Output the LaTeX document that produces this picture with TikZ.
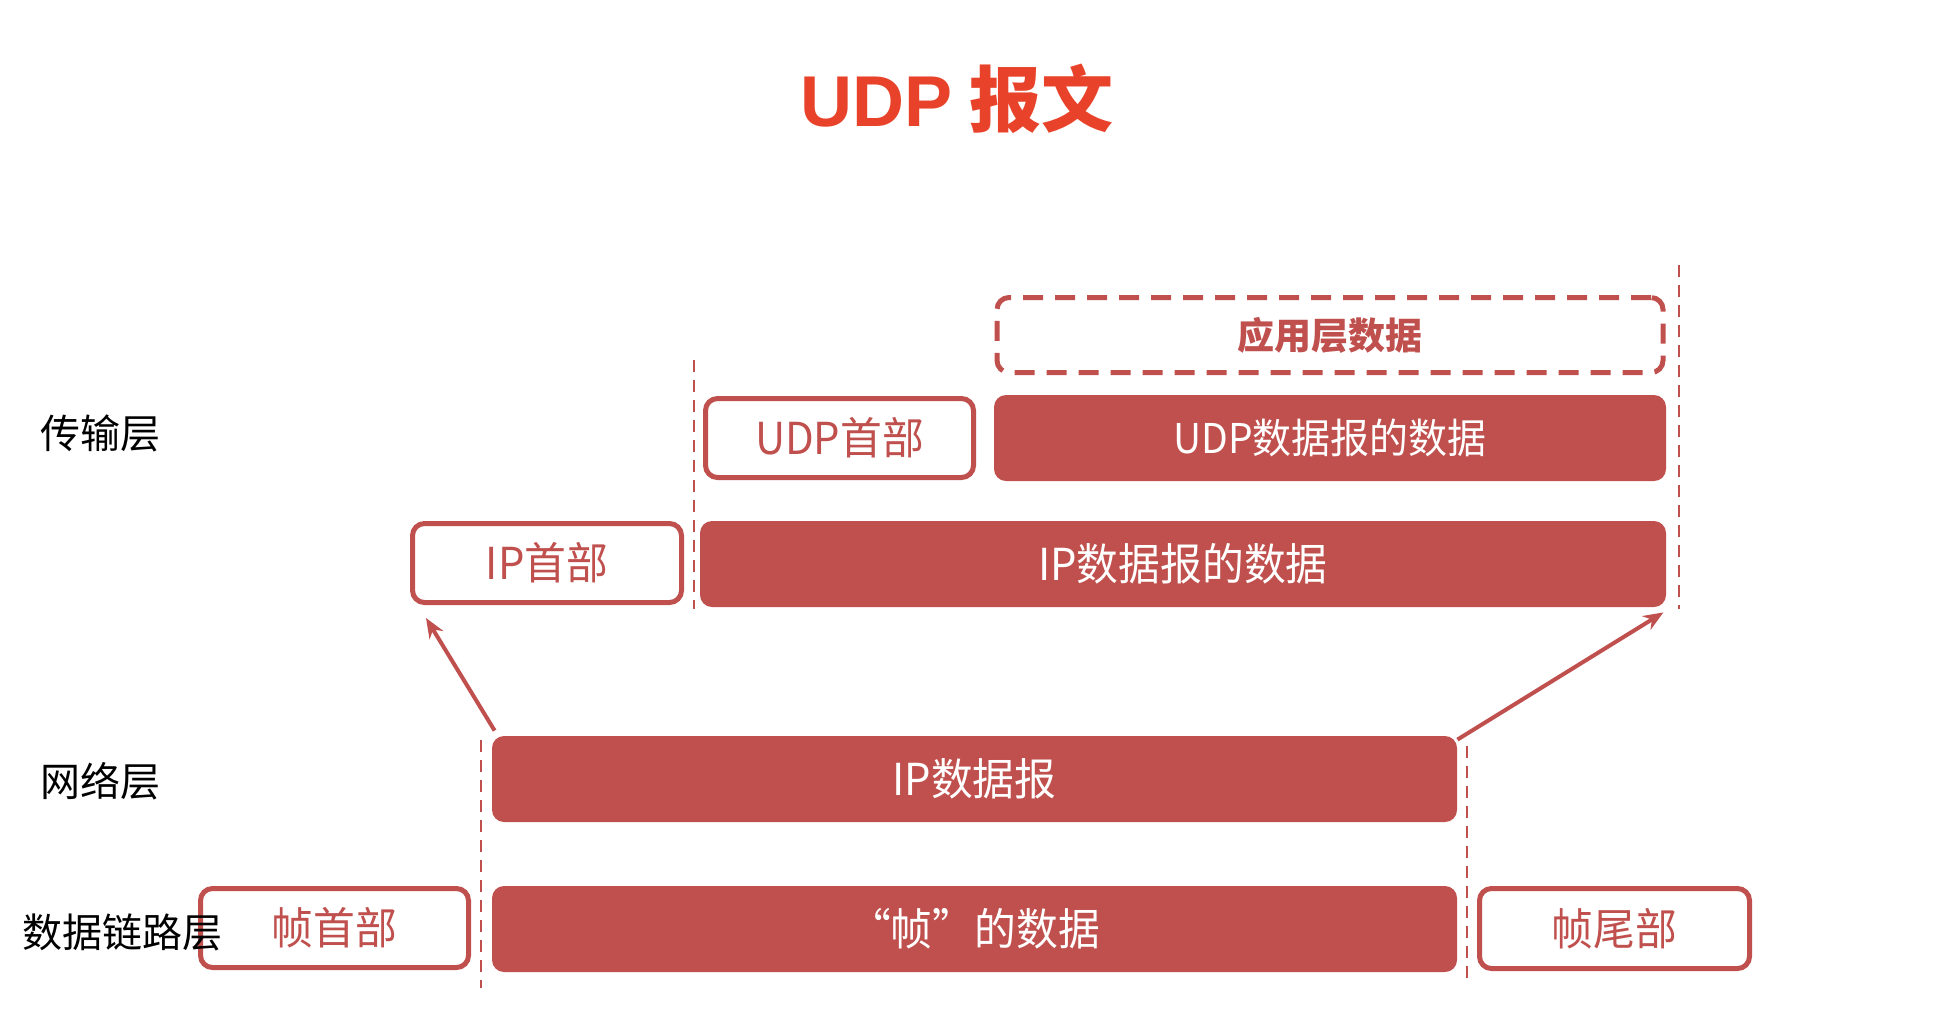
\documentclass[tikz,border=0pt]{standalone}
\usepackage{fontspec}
\setmainfont{Noto Sans CJK SC}
\newfontfamily\latinbold{Liberation Sans}
\newfontfamily\boxfont{Noto Sans CJK SC}[FakeStretch=0.95]
\usetikzlibrary{calc,arrows.meta}
\definecolor{boxred}{HTML}{C0504D}
\definecolor{titlered}{HTML}{E8432A}
\tikzset{
  fillbox/.style={rectangle, rounded corners=6pt, fill=boxred, text=white, inner sep=0pt, font=\boxfont\fontsize{22}{26}\selectfont},
  linebox/.style={rectangle, rounded corners=6pt, draw=boxred, line width=2.5pt, fill=white, text=boxred, inner sep=0pt, font=\boxfont\fontsize{22}{26}\selectfont},
  dashbox/.style={rectangle, rounded corners=6pt, draw=boxred, line width=2.5pt, dash pattern=on 10pt off 6pt, text=boxred, inner sep=0pt, font=\fontsize{18.5}{22}\selectfont\bfseries},
  guide/.style={draw=boxred, line width=1.3pt, dash pattern=on 6pt off 4pt},
  arr/.style={draw=boxred, line width=2pt, -{Stealth[length=10pt,width=8pt]}},
  layer/.style={anchor=west, inner sep=0pt, text=black, font=\fontsize{20}{24}\selectfont},
}
\begin{document}
\begin{tikzpicture}[x=0.5pt,y=-0.5pt]
\useasboundingbox (0,0) rectangle (1949,1024);
% title
\node[text=titlered, inner sep=0pt] (title) at (957,99) {\fontsize{36}{40}\selectfont{\latinbold\bfseries UDP} {\bfseries 报文}};
% guide lines
\coordinate (g1a) at (694,360); \coordinate (g1b) at (694,609);
\coordinate (g2a) at (1679,265); \coordinate (g2b) at (1679,609);
\coordinate (g3a) at (481,740); \coordinate (g3b) at (481,988);
\coordinate (g4a) at (1467,746); \coordinate (g4b) at (1467,982);
\draw[guide] (g1a) -- (g1b);
\draw[guide] (g2a) -- (g2b);
\draw[guide] (g3a) -- (g3b);
\draw[guide] (g4a) -- (g4b);
% transport layer
\node[dashbox, minimum width=333pt, minimum height=37.5pt] (app) at (1330,335) {应用层数据};
\node[linebox, minimum width=134pt, minimum height=39.5pt] (udph) at (839.5,438) {UDP首部};
\node[fillbox, minimum width=336pt, minimum height=43pt, font=\boxfont\fontsize{20.5}{24}\selectfont] (udpd) at (1330,438) {UDP数据报的数据};
\node[linebox, minimum width=134.5pt, minimum height=39.5pt] (iph) at (547,563) {IP首部};
\node[fillbox, minimum width=483pt, minimum height=43pt] (ipd) at (1183,564) {IP数据报的数据};
% network layer
\node[fillbox, minimum width=482.5pt, minimum height=43pt] (ipdg) at (974.5,779) {IP数据报};
% data link layer
\node[linebox, minimum width=134pt, minimum height=39.5pt] (fh) at (334.5,928) {帧首部};
\node[fillbox, minimum width=482.5pt, minimum height=43pt] (fd) at (974.5,929) {“帧”的数据};
\node[linebox, minimum width=135pt, minimum height=40pt] (ft) at (1614.5,928.5) {帧尾部};
% arrows
\draw[arr] ($(ipdg.north west)+(3,-5)$) -- ($(iph.south west)+(16,13)$);
\draw[arr] ($(ipdg.north east)+(0,4)$) -- ($(ipd.south east)+(-3,5)$);
% layer labels
\node[layer] (l1) at (40,433) {传输层};
\node[layer] (l2) at (40,781) {网络层};
\node[layer] (l3) at (22,932) {数据链路层};
\end{tikzpicture}
\end{document}
